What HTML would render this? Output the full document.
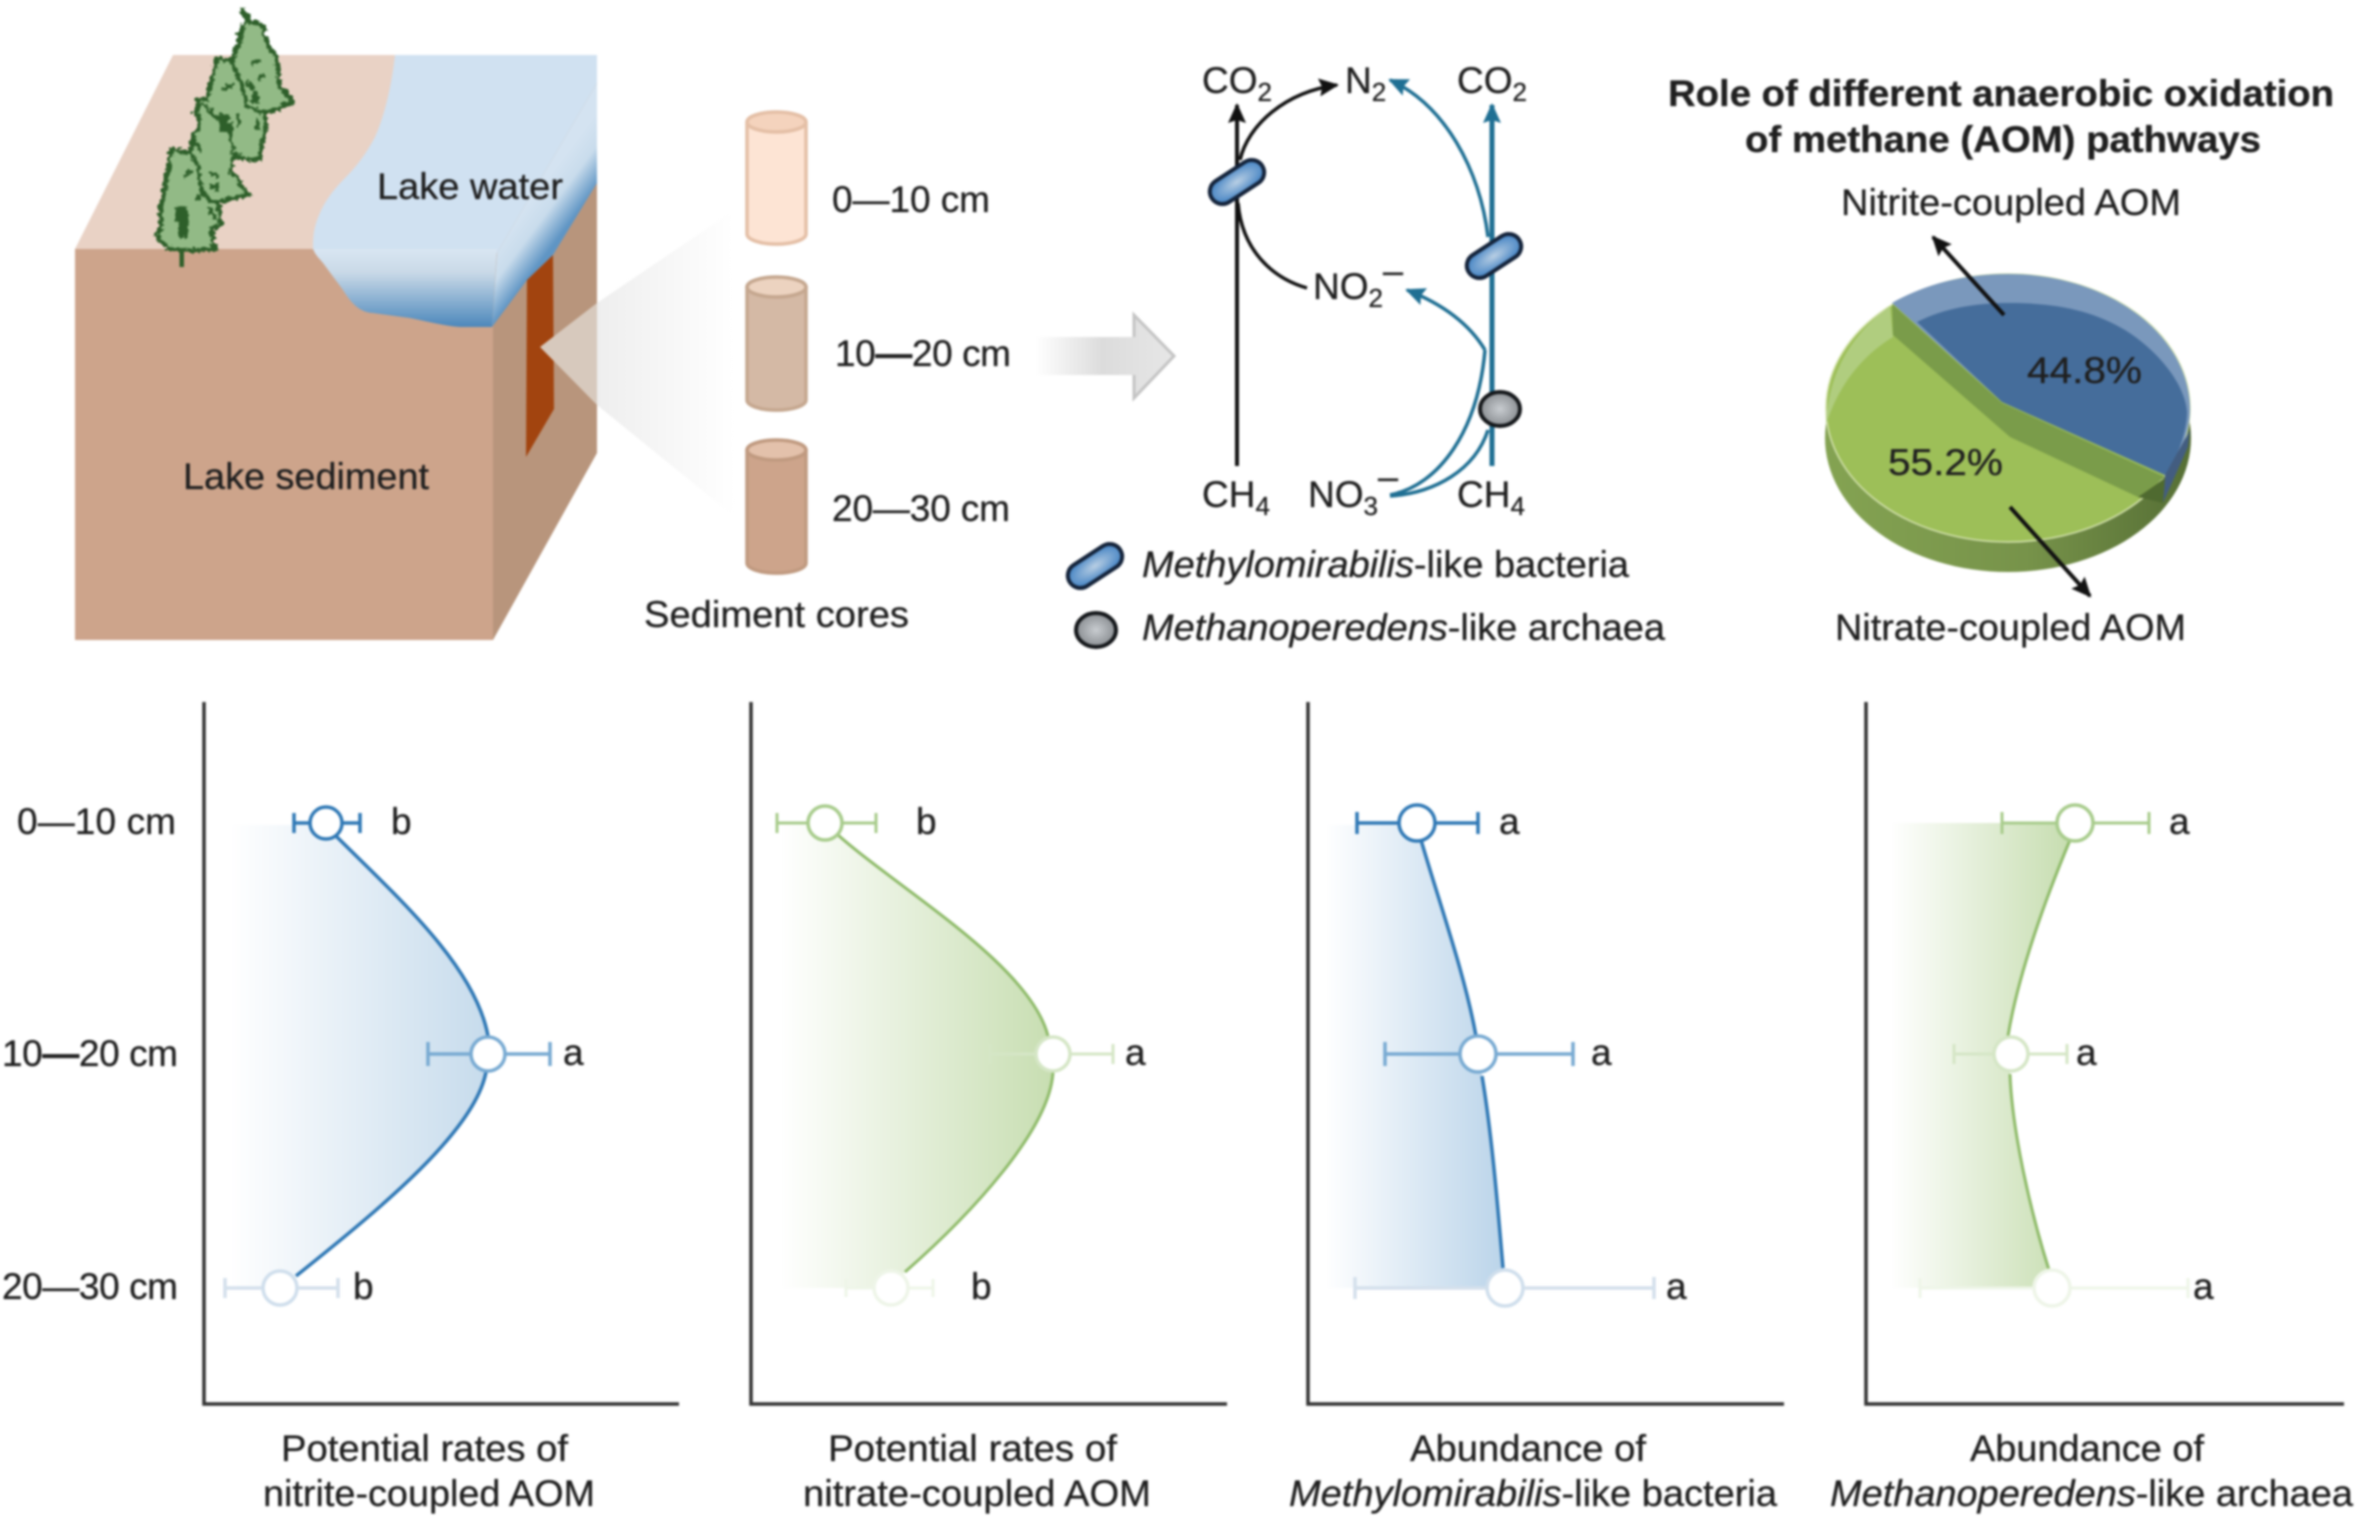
<!DOCTYPE html>
<html><head><meta charset="utf-8"><style>
html,body{margin:0;padding:0;background:#fff;width:2362px;height:1522px;overflow:hidden}
svg{display:block;filter:blur(1.1px)}
text{font-family:"Liberation Sans",sans-serif;font-size:37px;fill:#1f1f1f;stroke:#1f1f1f;stroke-width:.3px}
</style></head><body>
<svg width="2362" height="1522" viewBox="0 0 2362 1522" xmlns="http://www.w3.org/2000/svg">
<defs>
<filter id="rough" x="-20%" y="-20%" width="140%" height="140%"><feTurbulence type="turbulence" baseFrequency="0.16" numOctaves="2" seed="4" result="n"/><feDisplacementMap in="SourceGraphic" in2="n" scale="7" xChannelSelector="R" yChannelSelector="G"/></filter>
<linearGradient id="wf" gradientUnits="userSpaceOnUse" x1="0" y1="249" x2="0" y2="328"><stop offset="0" stop-color="#d9e6f2"/><stop offset=".3" stop-color="#c9d9e7"/><stop offset=".55" stop-color="#9cbcd8"/><stop offset="1" stop-color="#4a86ba"/></linearGradient>
<linearGradient id="wb" gradientUnits="userSpaceOnUse" x1="512" y1="225" x2="548" y2="252"><stop offset="0" stop-color="#d4e3f1"/><stop offset=".45" stop-color="#c9dcec"/><stop offset="1" stop-color="#5f95c4"/></linearGradient>
<linearGradient id="cone" gradientUnits="userSpaceOnUse" x1="597" y1="0" x2="735" y2="0"><stop offset="0" stop-color="#eeeeee"/><stop offset="1" stop-color="#ffffff"/></linearGradient>
<linearGradient id="arr" gradientUnits="userSpaceOnUse" x1="1035" y1="0" x2="1170" y2="0"><stop offset="0" stop-color="#ffffff"/><stop offset=".5" stop-color="#dcdcdc"/><stop offset="1" stop-color="#e6e6e6"/></linearGradient>
<radialGradient id="cap" cx=".5" cy=".5" r=".5"><stop offset="0" stop-color="#b9cfe4"/><stop offset="1" stop-color="#4f8ac6"/></radialGradient>
<radialGradient id="arch" cx=".5" cy=".5" r=".6"><stop offset="0" stop-color="#c8ccd0"/><stop offset="1" stop-color="#7e8286"/></radialGradient>
<linearGradient id="b1" gradientUnits="userSpaceOnUse" x1="230" y1="0" x2="490" y2="0"><stop offset="0" stop-color="#ffffff"/><stop offset="1" stop-color="#c6dbec"/></linearGradient>
<linearGradient id="g2" gradientUnits="userSpaceOnUse" x1="780" y1="0" x2="1050" y2="0"><stop offset="0" stop-color="#ffffff"/><stop offset="1" stop-color="#c8deb2"/></linearGradient>
<linearGradient id="b3" gradientUnits="userSpaceOnUse" x1="1325" y1="0" x2="1500" y2="0"><stop offset="0" stop-color="#ffffff"/><stop offset="1" stop-color="#bcd5ea"/></linearGradient>
<linearGradient id="g4" gradientUnits="userSpaceOnUse" x1="1890" y1="0" x2="2065" y2="0"><stop offset="0" stop-color="#ffffff"/><stop offset="1" stop-color="#c8deb2"/></linearGradient>
<linearGradient id="pside" gradientUnits="userSpaceOnUse" x1="1825" y1="0" x2="2190" y2="0"><stop offset="0" stop-color="#84a352"/><stop offset=".55" stop-color="#77934a"/><stop offset="1" stop-color="#566f35"/></linearGradient>
<marker id="mk" viewBox="0 0 10 10" refX="9" refY="5" markerWidth="20" markerHeight="20" markerUnits="userSpaceOnUse" orient="auto"><path d="M0 0.5 L10 5 L0 9.5 L1.5 5 Z" fill="#111"/></marker>
<marker id="mb" viewBox="0 0 10 10" refX="9" refY="5" markerWidth="20" markerHeight="20" markerUnits="userSpaceOnUse" orient="auto"><path d="M0 0.5 L10 5 L0 9.5 L1.5 5 Z" fill="#1f6f93"/></marker>
</defs>

<!-- block -->
<polygon points="173,55 597,55 597,200 493,249 75,249" fill="#e9d2c5"/>
<polygon points="493,249 597,55 597,453 493,640" fill="#b8957c"/>
<rect x="75" y="249" width="418" height="391" fill="#cda48b"/>
<path d="M395 55 C392 83 385 115 375 137 C368 150 360 163 345 178 C330 193 320 208 315 227 C313 235 313 242 313 249 L497 253 L597 83 L597 55 Z" fill="#d0e1f1"/>
<path d="M313 249 C316 256 319 258 323 263 L343 290 C348 298 352 303 357 307 C362 311 368 313 373 313 L410 318 C430 322 445 326 460 327 L492 327 L497 249 Z" fill="url(#wf)"/>
<polygon points="497,253 597,83 597,183 553,255 527,280 492,327" fill="url(#wb)"/>
<polygon points="553,255 554,409 526,457 527,280" fill="#a2440f"/>
<!-- cone -->
<polygon points="597,303 730,213 735,517 597,405" fill="url(#cone)"/>
<polygon points="540,347 597,303 597,405" fill="#d7c9bd"/>
<text x="377" y="199" textLength="186" lengthAdjust="spacingAndGlyphs" fill="#1c2430" stroke="#1c2430">Lake water</text>
<text x="183" y="489" textLength="246" lengthAdjust="spacingAndGlyphs" fill="#2a1d16" stroke="#2a1d16">Lake sediment</text>

<!-- tree -->
<g filter="url(#rough)">
<polygon points="240,7 246,14 246,20 254,21 262,24 264,36 268,47 274,52 275,63 277,75 277,87 284,90 290,100 283,104 277,107 262,110 264,120 263,130 260,145 257,157 245,158 232,153 229,170 238,178 238,183 247,192 233,197 217,200 219,223 210,227 212,240 213,247 200,248 183,249 179,249 168,247 160,240 155,233 159,226 159,210 160,200 163,185 165,173 168,160 170,148 180,150 188,150 190,142 192,133 197,125 197,115 193,110 197,104 195,98 205,97 208,83 212,70 215,57 230,60 233,50 237,43 238,36 240,27 245,20" fill="#92ba86" stroke="#2f5f2a" stroke-width="4.5" stroke-linejoin="miter"/>
<g fill="none" stroke="#2f5f2a" stroke-width="4">
<path d="M230 60 L236 75 L242 90 L245 105 L262 110"/>
<path d="M200 102 L215 116 L228 130 L232 150"/>
<path d="M188 150 L196 165 L200 188 L208 200 L217 200"/>
<path d="M229 120 V132 M256 115 V128 M222 88 L232 82 M250 62 L258 58 M255 78 L262 72 M183 175 L190 168 M195 198 L203 188 M190 135 L200 150 M235 112 L238 125 M245 80 L252 88 M208 170 L216 175 M206 205 L214 218"/>
</g>
<g fill="#2f5f2a">
<rect x="176" y="204" width="10" height="32"/>
<rect x="173" y="206" width="7" height="13"/>
<rect x="218" y="112" width="10" height="18"/>
<rect x="250" y="90" width="8" height="11"/>
<rect x="208" y="182" width="9" height="7"/>
</g>
</g>
<rect x="179.5" y="248" width="4.5" height="19" fill="#2f5f2a"/>

<!-- cores -->
<g stroke-width="3.5">
<path d="M747 124 V234 A29 10 0 0 0 806 234 V124 Z" fill="#fde4d4" stroke="#e4bfa6"/>
<ellipse cx="776.5" cy="122" rx="29.5" ry="10" fill="#f4d3bd" stroke="#e4bfa6"/>
<path d="M747 288 V400 A29 10 0 0 0 806 400 V288 Z" fill="#d4b9a5" stroke="#c5a78f"/>
<ellipse cx="776.5" cy="287" rx="29.5" ry="10" fill="#ecd3c0" stroke="#c5a78f"/>
<path d="M747 451 V563 A29 10 0 0 0 806 563 V451 Z" fill="#cda48b" stroke="#c09a80"/>
<ellipse cx="776.5" cy="450" rx="29.5" ry="10" fill="#e3c1ab" stroke="#c09a80"/>
</g>
<text x="832" y="212" textLength="158">0—10 cm</text>
<text x="835" y="366" textLength="176">10<tspan font-weight="bold">—</tspan>20 cm</text>
<text x="832" y="521" textLength="178">20—30 cm</text>
<text x="644" y="627" textLength="265" lengthAdjust="spacingAndGlyphs">Sediment cores</text>

<!-- big arrow -->
<polygon points="1035,337 1134,337 1134,315 1174,356 1134,398 1134,375 1035,375" fill="url(#arr)"/>
<path d="M1134 337 V315 L1174 356 L1134 398 V375" fill="none" stroke="#c4c4c4" stroke-width="3"/>

<!-- pathways -->
<g fill="none" stroke="#111" stroke-width="3.5">
<path d="M1237 466 V105" marker-end="url(#mk)" stroke-width="4"/>
<path d="M1240 160 C1248 125 1285 92 1337 85" marker-end="url(#mk)"/>
<path d="M1238 203 C1242 250 1272 278 1307 288"/>
</g>
<g fill="none" stroke="#1f6f93" stroke-width="3.5">
<path d="M1492 466 V105" marker-end="url(#mb)" stroke-width="5"/>
<path d="M1488 237 C1480 170 1445 105 1390 80" marker-end="url(#mb)"/>
<path d="M1485 350 C1470 325 1445 305 1407 290" marker-end="url(#mb)"/>
<path d="M1390 495 C1440 485 1478 430 1485 350"/>
<path d="M1390 496 C1435 493 1475 470 1488 430"/>
</g>
<g fill="url(#cap)" stroke="#14233a" stroke-width="4">
<rect x="-30" y="-12.5" width="60" height="25" rx="12.5" transform="translate(1237,182) rotate(-33)"/>
<rect x="-30" y="-12.5" width="60" height="25" rx="12.5" transform="translate(1494,256) rotate(-33)"/>
<rect x="-30" y="-12.5" width="60" height="25" rx="12.5" transform="translate(1095,566) rotate(-33)"/>
</g>
<g fill="url(#arch)" stroke="#14171a" stroke-width="4">
<ellipse cx="1500" cy="409" rx="20" ry="17"/>
<ellipse cx="1096" cy="630" rx="20" ry="17"/>
</g>
<text x="1202" y="93" fill="#333" stroke="#333">CO<tspan font-size="26" dy="8">2</tspan></text>
<text x="1345" y="93" fill="#333" stroke="#333">N<tspan font-size="26" dy="8">2</tspan></text>
<text x="1457" y="93" fill="#333" stroke="#333">CO<tspan font-size="26" dy="8">2</tspan></text>
<text x="1313" y="299" fill="#333" stroke="#333">NO<tspan font-size="26" dy="8">2</tspan><tspan font-size="36" dy="-24">–</tspan></text>
<text x="1202" y="507" fill="#333" stroke="#333">CH<tspan font-size="26" dy="8">4</tspan></text>
<text x="1308" y="507" fill="#333" stroke="#333">NO<tspan font-size="26" dy="8">3</tspan><tspan font-size="36" dy="-26">–</tspan></text>
<text x="1457" y="507" fill="#333" stroke="#333">CH<tspan font-size="26" dy="8">4</tspan></text>
<text x="1142" y="577" textLength="487" lengthAdjust="spacingAndGlyphs"><tspan font-style="italic">Methylomirabilis</tspan>-like bacteria</text>
<text x="1142" y="640" textLength="523" lengthAdjust="spacingAndGlyphs"><tspan font-style="italic">Methanoperedens</tspan>-like archaea</text>

<!-- pie title -->
<text x="1668" y="106" textLength="666" lengthAdjust="spacingAndGlyphs" font-weight="bold">Role of different anaerobic oxidation</text>
<text x="1745" y="152" textLength="516" lengthAdjust="spacingAndGlyphs" font-weight="bold">of methane (AOM) pathways</text>
<text x="1841" y="215" textLength="340" lengthAdjust="spacingAndGlyphs">Nitrite-coupled AOM</text>
<text x="1835" y="640" textLength="351" lengthAdjust="spacingAndGlyphs">Nitrate-coupled AOM</text>

<!-- pie -->
<ellipse cx="2008" cy="438" rx="183" ry="134" fill="url(#pside)"/>
<ellipse cx="2008" cy="408" rx="182" ry="134" fill="#9dbf58" stroke="#d5e3b0" stroke-width="1.5"/>
<path d="M1890 306 C1850 335 1828 375 1826 425 C1835 395 1855 360 1893 337 Z" fill="#b0cd7f"/>
<path d="M1892 303 C1925 284 1965 274 2008 274 C2108 274 2190 334 2190 410 C2190 430 2180 458 2165 475 L2002 402 Z" fill="#7a98bc"/>
<path d="M1917 322 C1945 308 1975 303 2010 303 C2060 303 2095 312 2125 330 C2160 352 2185 385 2187 412 C2187 430 2178 458 2165 475 L2002 402 Z" fill="#456d9b"/>
<polygon points="1892,304 2002,403 2165,477 2138,497 2010,437 1893,335" fill="#7a9c4a"/>
<polygon points="2165,475 2190,430 2188,447 2163,503" fill="#435d80"/>
<polygon points="2138,497 2165,478 2163,503" fill="#4f6a30"/>
<g fill="none" stroke="#111" stroke-width="4">
<path d="M2004 315 L1933 237" marker-end="url(#mk)"/>
<path d="M2010 507 L2090 596" marker-end="url(#mk)"/>
</g>
<text x="2027" y="383" font-size="40" textLength="115" lengthAdjust="spacingAndGlyphs" fill="#142236" stroke="#142236">44.8%</text>
<text x="1888" y="475" font-size="40" textLength="115" lengthAdjust="spacingAndGlyphs" fill="#1b270c" stroke="#1b270c">55.2%</text>

<!-- charts -->
<g stroke="#333" stroke-width="3.5" fill="none">
<path d="M204 702 V1404 H679"/>
<path d="M751 702 V1404 H1227"/>
<path d="M1308 702 V1404 H1784"/>
<path d="M1866 702 V1404 H2344"/>
</g>
<text x="17" y="834" textLength="159">0—10 cm</text>
<text x="2" y="1066" textLength="176">10<tspan font-weight="bold">—</tspan>20 cm</text>
<text x="2" y="1299" textLength="176">20—30 cm</text>

<!-- chart 1 -->
<path d="M230 825 L326 825 L335 835 C395 895 475 965 488 1036 L486 1072 C475 1130 385 1205 296 1276 L280 1288 L230 1288 Z" fill="url(#b1)"/>
<path d="M335 835 C395 895 475 965 488 1036 M486 1072 C475 1130 385 1205 296 1276" fill="none" stroke="#2f78b5" stroke-width="3.5"/>
<g fill="none" stroke-width="3.5">
<path d="M294 813 V833 M294 823 H360 M360 813 V833" stroke="#2f78b5"/>
<path d="M428 1042 V1066 M428 1054 H550 M550 1042 V1066" stroke="#78aad2" />
<path d="M225 1278 V1298 M225 1288 H338 M338 1278 V1298" stroke="#d4e0ec"/>
</g>
<circle cx="326" cy="823" r="16" fill="#fff" stroke="#2f78b5" stroke-width="3.5"/>
<circle cx="488" cy="1054" r="17" fill="#fff" stroke="#78aad2" stroke-width="3.5"/>
<circle cx="280" cy="1288" r="17" fill="#fff" stroke="#cfdeec" stroke-width="3.5"/>
<text x="391" y="834">b</text><text x="563" y="1065">a</text><text x="353" y="1299">b</text>

<!-- chart 2 -->
<path d="M780 825 L825 825 L838 835 C900 890 1030 965 1048 1036 L1053 1072 C1050 1130 970 1215 905 1272 L891 1288 L780 1288 Z" fill="url(#g2)"/>
<path d="M838 835 C900 890 1030 965 1048 1036 M1053 1072 C1050 1130 970 1215 905 1272" fill="none" stroke="#8fbb6a" stroke-width="3"/>
<g fill="none" stroke-width="3">
<path d="M777 813 V833 M777 823 H876 M876 813 V833" stroke="#a8cc8c"/>
<path d="M990 1044 V1064 M990 1054 H1113 M1113 1044 V1064" stroke="#d5e6c6"/>
<path d="M846 1279 V1297 M846 1288 H933 M933 1279 V1297" stroke="#eef5e8"/>
</g>
<circle cx="825" cy="823" r="17" fill="#fff" stroke="#a8cc8c" stroke-width="3.5"/>
<circle cx="1053" cy="1054" r="17" fill="#fff" stroke="#d5e6c6" stroke-width="3.5"/>
<circle cx="891" cy="1288" r="17" fill="#fff" stroke="#eef5e8" stroke-width="3.5"/>
<text x="916" y="834">b</text><text x="1125" y="1065">a</text><text x="971" y="1299">b</text>

<!-- chart 3 -->
<path d="M1325 825 L1417 825 L1421 840 C1440 905 1465 975 1476 1036 L1482 1076 C1492 1135 1498 1210 1503 1268 L1505 1288 L1325 1288 Z" fill="url(#b3)"/>
<path d="M1421 840 C1440 905 1465 975 1476 1036 M1482 1076 C1492 1135 1498 1210 1503 1268" fill="none" stroke="#2f78b5" stroke-width="3.5"/>
<g fill="none" stroke-width="3.5">
<path d="M1357 812 V834 M1357 823 H1478 M1478 812 V834" stroke="#2f78b5"/>
<path d="M1385 1042 V1066 M1385 1054 H1573 M1573 1042 V1066" stroke="#78aad2"/>
<path d="M1355 1277 V1299 M1355 1288 H1654 M1654 1277 V1299" stroke="#d4e0ec"/>
</g>
<circle cx="1417" cy="823" r="18" fill="#fff" stroke="#2f78b5" stroke-width="3.5"/>
<circle cx="1478" cy="1054" r="18" fill="#fff" stroke="#78aad2" stroke-width="3.5"/>
<circle cx="1505" cy="1288" r="18" fill="#fff" stroke="#cfdeec" stroke-width="3.5"/>
<text x="1499" y="834">a</text><text x="1591" y="1065">a</text><text x="1666" y="1299">a</text>

<!-- chart 4 -->
<path d="M1890 823 L2075 823 L2070 840 C2045 900 2018 975 2008 1036 L2010 1074 C2012 1130 2030 1210 2049 1270 L2052 1288 L1890 1288 Z" fill="url(#g4)"/>
<path d="M2070 840 C2045 900 2018 975 2008 1036 M2010 1074 C2012 1130 2030 1210 2049 1270" fill="none" stroke="#8fbb6a" stroke-width="3"/>
<g fill="none" stroke-width="3">
<path d="M2002 812 V834 M2002 823 H2149 M2149 812 V834" stroke="#a8cc8c"/>
<path d="M1954 1044 V1064 M1954 1054 H2067 M2067 1044 V1064" stroke="#d5e6c6"/>
<path d="M1920 1278 V1298 M1920 1288 H2188 M2188 1278 V1298" stroke="#eef5e8"/>
</g>
<circle cx="2075" cy="823" r="18" fill="#fff" stroke="#a8cc8c" stroke-width="3.5"/>
<circle cx="2011" cy="1054" r="17" fill="#fff" stroke="#d5e6c6" stroke-width="3.5"/>
<circle cx="2052" cy="1288" r="18" fill="#fff" stroke="#eef5e8" stroke-width="3.5"/>
<text x="2169" y="834">a</text><text x="2076" y="1065">a</text><text x="2193" y="1299">a</text>

<!-- bottom labels -->
<g>
<text x="281" y="1461" textLength="287" lengthAdjust="spacingAndGlyphs">Potential rates of</text>
<text x="263" y="1506" textLength="332" lengthAdjust="spacingAndGlyphs">nitrite-coupled AOM</text>
<text x="828" y="1461" textLength="289" lengthAdjust="spacingAndGlyphs">Potential rates of</text>
<text x="803" y="1506" textLength="348" lengthAdjust="spacingAndGlyphs">nitrate-coupled AOM</text>
<text x="1410" y="1461" textLength="236" lengthAdjust="spacingAndGlyphs">Abundance of</text>
<text x="1289" y="1506" textLength="488" lengthAdjust="spacingAndGlyphs"><tspan font-style="italic">Methylomirabilis</tspan>-like bacteria</text>
<text x="1970" y="1461" textLength="234" lengthAdjust="spacingAndGlyphs">Abundance of</text>
<text x="1830" y="1506" textLength="523" lengthAdjust="spacingAndGlyphs"><tspan font-style="italic">Methanoperedens</tspan>-like archaea</text>
</g>
</svg>
</body></html>
